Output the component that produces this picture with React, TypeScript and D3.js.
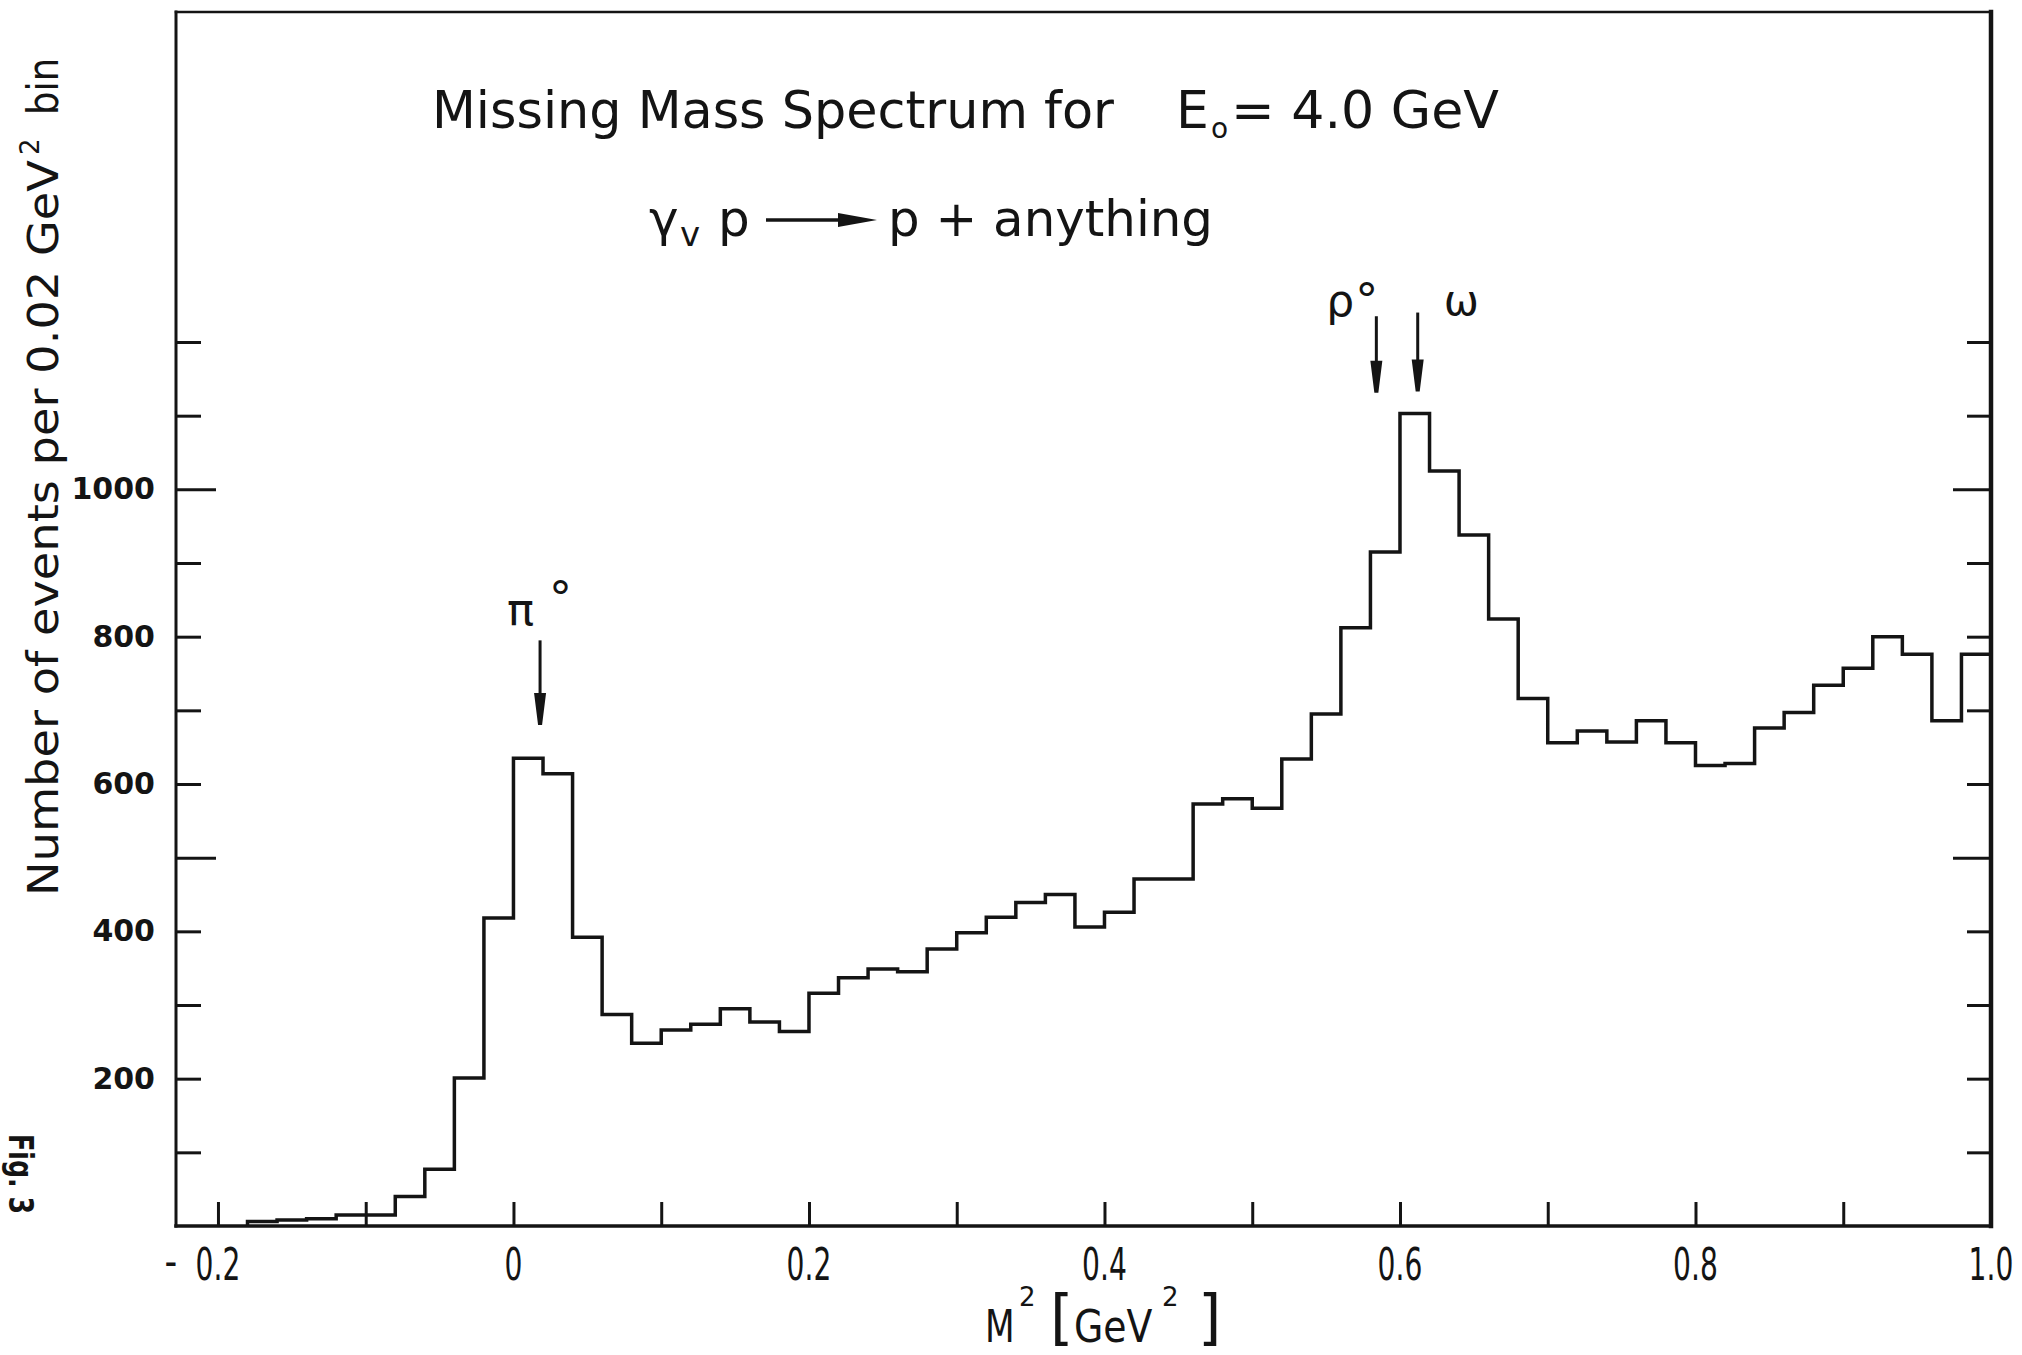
import { useEffect, useRef } from "react";
import * as d3 from "d3";

// lower edge of each 0.02 GeV^2 bin
const binLow = [
  -0.18, -0.16, -0.14, -0.12, -0.1, -0.08, -0.06, -0.04, -0.02, 0.0,
  0.02, 0.04, 0.06, 0.08, 0.1, 0.12, 0.14, 0.16, 0.18, 0.2,
  0.22, 0.24, 0.26, 0.28, 0.3, 0.32, 0.34, 0.36, 0.38, 0.4,
  0.42, 0.44, 0.46, 0.48, 0.5, 0.52, 0.54, 0.56, 0.58, 0.6,
  0.62, 0.64, 0.66, 0.68, 0.7, 0.72, 0.74, 0.76, 0.78, 0.8,
  0.82, 0.84, 0.86, 0.88, 0.9, 0.92, 0.94, 0.96, 0.98,
];
const binEnd = 1.0;

// events per bin
const counts = [
  6, 8, 10, 15, 15, 40, 77, 201, 418, 635,
  614, 392, 287, 248, 266, 274, 295, 277, 264, 316,
  337, 349, 345, 376, 398, 419, 439, 450, 406, 426,
  471, 471, 573, 580, 567, 634, 695, 812, 915, 1103,
  1025, 938, 824, 716, 656, 672, 657, 686, 656, 625,
  628, 676, 697, 734, 757, 800, 776, 686, 776,
];

const xTicks = [-0.2, -0.1, 0, 0.1, 0.2, 0.3, 0.4, 0.5, 0.6, 0.7, 0.8, 0.9];
const xLabels = [-0.2, 0, 0.2, 0.4, 0.6, 0.8, 1.0];
const yTicks = [100, 200, 300, 400, 500, 600, 700, 800, 900, 1000, 1100, 1200];
const yLongTicks = [500, 1000];
const yLabels = [200, 400, 600, 800, 1000];

// particle markers: M^2 position and arrow extent (in events)
const peakNames = ["π", "ρ", "ω"];
const peakMass2 = [0.018, 0.584, 0.612];
const arrowTop = [795, 1235, 1240];
const arrowTip = [680, 1131, 1133];

const MissingMassChart = () => {
  const ref = useRef<SVGSVGElement | null>(null);

  useEffect(() => {
    const svg = d3.select(ref.current);
    svg.selectAll("*").remove();

    const left = 176, right = 1991, top = 12, bottom = 1226;
    const x = d3.scaleLinear().domain([-0.2284, binEnd]).range([left, right]);
    const y = d3.scaleLinear().domain([0, 1648]).range([bottom, top]);
    const ink = "#141414";
    const font = "'DejaVu Sans', Verdana, sans-serif";

    svg.append("rect").attr("width", 2022).attr("height", 1355).attr("fill", "#fff");

    // frame
    const frame = [
      [left, top, left, bottom, 3],
      [left, top, right, top, 2.5],
      [right, top, right, bottom, 4.5],
      [left, bottom, right, bottom, 3.5],
    ];
    frame.forEach(([x1, y1, x2, y2, w]) => {
      svg.append("line")
        .attr("x1", x1).attr("y1", y1).attr("x2", x2).attr("y2", y2)
        .attr("stroke", ink).attr("stroke-width", w).attr("stroke-linecap", "square");
    });

    // inward ticks, left side
    const tl = svg.append("g").attr("transform", `translate(${left},0)`)
      .call(d3.axisRight(y).tickValues(yTicks).tickSize(25).tickFormat(() => ""));
    tl.select(".domain").remove();
    tl.selectAll(".tick line")
      .attr("x2", (d: any) => (yLongTicks.includes(d) ? 40 : 25))
      .attr("stroke", ink).attr("stroke-width", 3);

    // inward ticks, right side
    const tr = svg.append("g").attr("transform", `translate(${right},0)`)
      .call(d3.axisLeft(y).tickValues(yTicks).tickSize(24).tickFormat(() => ""));
    tr.select(".domain").remove();
    tr.selectAll(".tick line")
      .attr("x2", (d: any) => (yLongTicks.includes(d) ? -38 : -24))
      .attr("stroke", ink).attr("stroke-width", 3);

    // inward ticks, bottom
    const tb = svg.append("g").attr("transform", `translate(0,${bottom})`)
      .call(d3.axisTop(x).tickValues(xTicks).tickSize(24).tickFormat(() => ""));
    tb.select(".domain").remove();
    tb.selectAll(".tick line").attr("stroke", ink).attr("stroke-width", 3);

    // y tick labels
    const yl = svg.append("g").attr("transform", `translate(${left},0)`)
      .call(d3.axisLeft(y).tickValues(yLabels).tickSize(0).tickPadding(21).tickFormat(d3.format("d")));
    yl.select(".domain").remove();
    yl.attr("font-family", font).attr("font-size", 30).attr("font-weight", "bold");
    yl.selectAll("text").attr("fill", ink);

    // condensed text: squeeze horizontally so the box matches the ink
    const narrow = (s: string, xx: number, yy: number, fs: number, sx: number, anchor = "start") =>
      svg.append("text")
        .attr("transform", `translate(${xx},${yy}) scale(${sx},1)`)
        .attr("text-anchor", anchor)
        .attr("font-family", font)
        .attr("font-size", fs)
        .attr("fill", ink)
        .text(s);

    // x tick labels
    xLabels.forEach((d) => {
      narrow(d === 0 ? "0" : Math.abs(d).toFixed(1), x(d), 1280, 44, 0.64, "middle");
    });
    narrow("-", x(xLabels[0]) - 47, 1276, 44, 0.8, "middle");

    // histogram
    const pts = [
      { m: binLow[0], n: 0 },
      ...binLow.map((m, i) => ({ m, n: counts[i] })),
      { m: binEnd, n: counts[counts.length - 1] },
    ];
    const line = d3.line<{ m: number; n: number }>()
      .x((d) => x(d.m))
      .y((d) => y(d.n))
      .curve(d3.curveStepAfter);
    svg.append("path")
      .attr("d", line(pts))
      .attr("fill", "none")
      .attr("stroke", ink)
      .attr("stroke-width", 3.5);

    // particle arrows + labels
    peakMass2.forEach((m, i) => {
      const px = x(m);
      const y0 = y(arrowTop[i]);
      const y1 = y(arrowTip[i]);
      svg.append("line")
        .attr("x1", px).attr("x2", px).attr("y1", y0).attr("y2", y1 - 24)
        .attr("stroke", ink).attr("stroke-width", 3);
      svg.append("path")
        .attr("d", `M${px - 6},${y1 - 32}L${px + 6},${y1 - 32}L${px + 2},${y1}L${px - 2},${y1}Z`)
        .attr("fill", ink);
    });

    const t = (s: string, xx: number, yy: number, fs: number, len?: number) => {
      const el = svg.append("text").attr("x", xx).attr("y", yy).attr("font-family", font)
        .attr("font-size", fs).attr("fill", ink).text(s);
      if (len) el.attr("textLength", len).attr("lengthAdjust", "spacingAndGlyphs");
      return el;
    };
    const pa = x(peakMass2[0]), ra = x(peakMass2[1]), wa = x(peakMass2[2]);
    t(peakNames[0], pa - 33, 625, 45);
    t("°", pa + 9, 614, 46);
    t(peakNames[1], ra - 50, 316, 44);
    t("°", ra - 21, 316, 46);
    t(peakNames[2], wa + 26, 315, 42);

    // title
    t("Missing Mass Spectrum for", 432, 128, 52, 682);
    t("E", 1176, 128, 52);
    t("o", 1211, 138, 28);
    t("= 4.0 GeV", 1231, 128, 52, 268);

    // reaction
    t("γ", 649, 236, 50);
    t("v", 680, 246, 34);
    t("p", 718, 236, 50);
    svg.append("line").attr("x1", 766).attr("x2", 846).attr("y1", 220).attr("y2", 220)
      .attr("stroke", ink).attr("stroke-width", 3.5);
    svg.append("path").attr("d", "M838,213L877,220L838,227Z").attr("fill", ink);
    t("p + anything", 888, 236, 50, 325);

    // y axis title
    const g = svg.append("g").attr("transform", "translate(58,896) rotate(-90)");
    g.append("text").attr("x", 0).attr("y", 0).attr("font-family", font).attr("font-size", 42)
      .attr("fill", ink).attr("textLength", 736).attr("lengthAdjust", "spacingAndGlyphs")
      .text("Number of events per 0.02 GeV");
    g.append("text").attr("x", 741).attr("y", -19).attr("font-family", font).attr("font-size", 26)
      .attr("fill", ink).text("2");
    g.append("text").attr("x", 781).attr("y", 0).attr("font-family", font).attr("font-size", 42)
      .attr("fill", ink).attr("textLength", 57).attr("lengthAdjust", "spacingAndGlyphs")
      .text("bin");

    // x axis title
    narrow("M", 985, 1342, 44, 0.78);
    t("2", 1019, 1306, 26);
    t("[", 1050, 1338, 60);
    narrow("GeV", 1074, 1342, 44, 0.86);
    t("2", 1162, 1306, 26);
    t("]", 1198, 1338, 60);

    // figure number at the page edge
    svg.append("g").attr("transform", "translate(9,1134) rotate(90)")
      .append("text").attr("font-family", font).attr("font-size", 34).attr("font-weight", "bold")
      .attr("fill", ink).attr("textLength", 80).attr("lengthAdjust", "spacingAndGlyphs")
      .text("Fig. 3");
  }, []);

  return (
    <svg
      ref={ref}
      width={2022}
      height={1355}
      style={{ position: "absolute", left: 0, top: 0, display: "block" }}
    />
  );
};

export default function App() {
  return <MissingMassChart />;
}
